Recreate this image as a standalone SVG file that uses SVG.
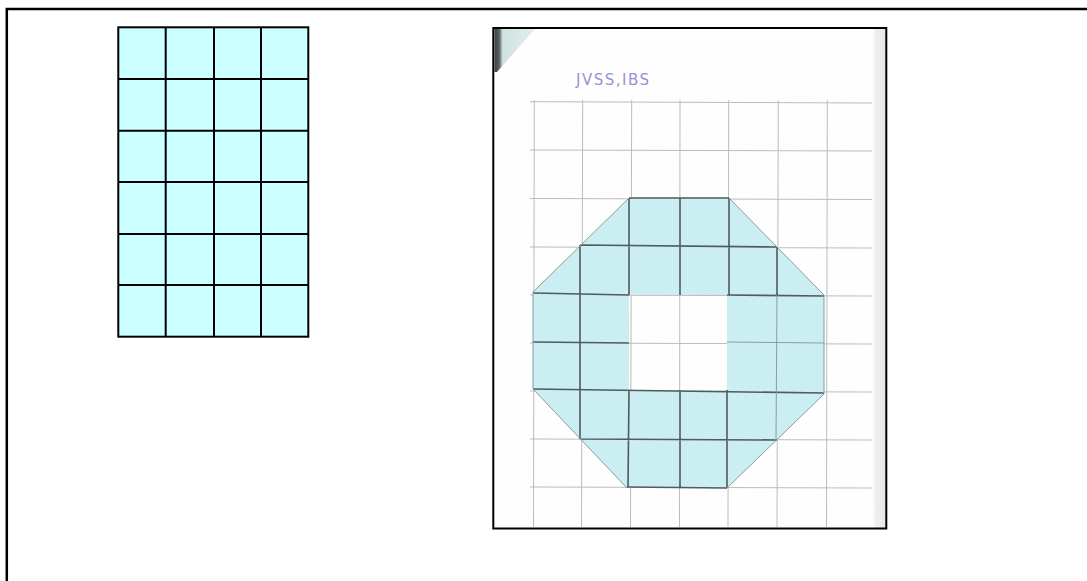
<svg xmlns="http://www.w3.org/2000/svg" width="1087" height="581" viewBox="0 0 1087 581">
<defs>
<style>
.pg{stroke:#bcbcbc;stroke-width:1;fill:none}
.dk{stroke:#4f5b5c;stroke-width:1.6;fill:none}
.md{stroke:#8e9b9d;stroke-width:1;fill:none}
</style>
<linearGradient id="corner" x1="0" y1="0" x2="1" y2="0">
<stop offset="0" stop-color="#3a3d3d"/>
<stop offset="0.12" stop-color="#5b6262"/>
<stop offset="0.2" stop-color="#cfe0e0"/>
<stop offset="1" stop-color="#e4efef"/>
</linearGradient>
<linearGradient id="edge" x1="0" y1="0" x2="1" y2="0">
<stop offset="0" stop-color="#ffffff"/>
<stop offset="0.3" stop-color="#eeeeee"/>
<stop offset="1" stop-color="#e6e8e8"/>
</linearGradient>
</defs>
<rect width="1087" height="581" fill="#fff"/>
<rect id="frame" x="6.8" y="9" width="1100" height="600" fill="none" stroke="#000" stroke-width="2.5"/>
<g id="grid-left">
<rect x="118.3" y="27.3" width="190" height="309.4" fill="#ccffff"/>
<g stroke="#000" stroke-width="2" fill="none">
<rect x="118.3" y="27.3" width="190" height="309.4"/>
<line x1="165.7" y1="27.3" x2="165.7" y2="336.7"/>
<line x1="214" y1="27.3" x2="214" y2="336.7"/>
<line x1="261" y1="27.3" x2="261" y2="336.7"/>
<line x1="118.3" y1="79" x2="308.3" y2="79"/>
<line x1="118.3" y1="130.7" x2="308.3" y2="130.7"/>
<line x1="118.3" y1="182" x2="308.3" y2="182"/>
<line x1="118.3" y1="234" x2="308.3" y2="234"/>
<line x1="118.3" y1="285" x2="308.3" y2="285"/>
</g>
</g>
<g id="photo">
<rect x="493.3" y="28" width="393" height="500.5" fill="#fefefe"/>
<rect x="872" y="29" width="14" height="499" fill="url(#edge)"/>
<polygon points="494.5,29 535,29 497,72 494.5,72" fill="url(#corner)"/>
<g id="paper-grid" class="pg">
<line x1="530" y1="101.7" x2="872" y2="103"/>
<line x1="530" y1="150" x2="872" y2="151"/>
<line x1="530" y1="198.5" x2="872" y2="199.5"/>
<line x1="530" y1="247" x2="872" y2="248"/>
<line x1="530" y1="295" x2="872" y2="296"/>
<line x1="530" y1="343" x2="872" y2="344"/>
<line x1="530" y1="391" x2="872" y2="392"/>
<line x1="530" y1="439" x2="872" y2="440"/>
<line x1="530" y1="487" x2="872" y2="488"/>
<line x1="534.3" y1="100" x2="533.5" y2="527"/>
<line x1="582.7" y1="100" x2="581.5" y2="527"/>
<line x1="631.7" y1="100" x2="630.5" y2="527"/>
<line x1="680" y1="100" x2="679.5" y2="527"/>
<line x1="728.7" y1="100" x2="728" y2="527"/>
<line x1="778.3" y1="100" x2="777" y2="527"/>
<line x1="827.3" y1="100" x2="826.5" y2="527"/>
</g>
<text x="576" y="85" font-family="DejaVu Sans, sans-serif" font-size="15" fill="#9a90d6" letter-spacing="1.5">JVSS,IBS</text>
<path id="shape" fill="#caeef2" fill-rule="evenodd" d="M629,198 L729,198 L824,295 L824,394 L727,488 L627,488 L533,389 L533,292 Z M629,295 L727,295 L727,390 L629,390 Z"/>
<g id="shape-lines">
<path class="dk" d="M629,198 L729,198 M629,198 L629,295 M680,198 L680,295 M729,198 L729,295 M580,245 L777,247 M580,245 L580,439 M777,247 L777,295 M533,293 L629,295 M727,295 L824,296 M533,342 L629,343 M533,389 L824,393 M580,439 L777,440 M629,390 L628,487 M680,390 L680,487 M727,390 L727,488 M627,487 L727,488"/>
<path class="md" d="M533,292 L533,389 M824,295 L824,394 M777,295 L776,440 M629,198 L533,292 M729,198 L824,295 M533,389 L627,488 M727,488 L824,394 M727,342 L824,343"/>
</g>
<rect x="493.3" y="28" width="393" height="500.5" fill="none" stroke="#000" stroke-width="2"/>
</g>
</svg>
